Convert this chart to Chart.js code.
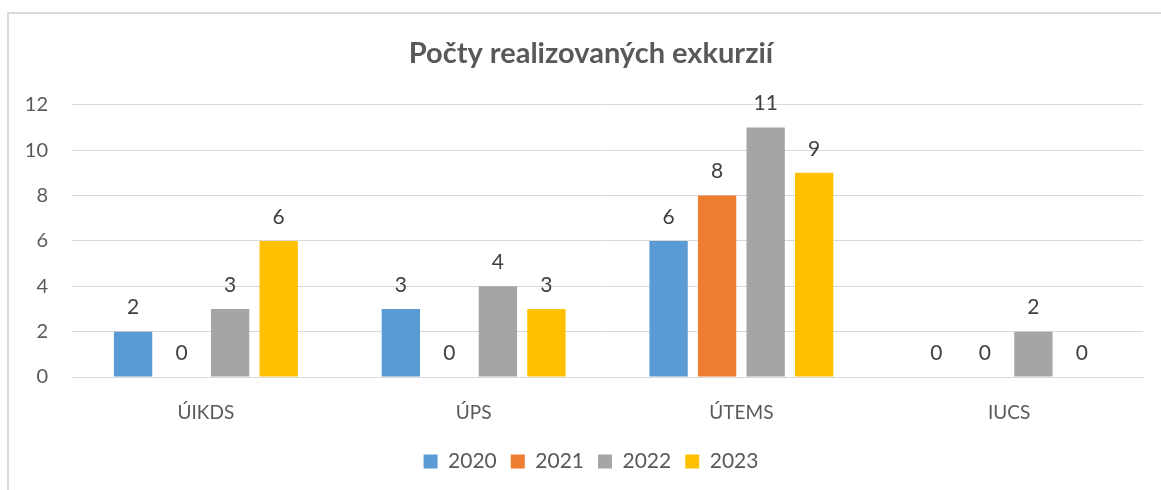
<!DOCTYPE html>
<html><head><meta charset="utf-8">
<script src="https://cdn.jsdelivr.net/npm/chart.js@4"></script>
<style>
html,body{margin:0;padding:0;background:#fff;}
#wrap{position:relative;width:1161px;height:490px;overflow:hidden;}
#frame{position:absolute;left:7px;top:12px;width:1200px;height:600px;border:2px solid #d9d9d9;box-sizing:border-box;}
canvas{position:absolute;left:0;top:0;}
</style></head><body>
<div id="wrap"><div id="frame"></div><canvas id="c" width="1161" height="490"></canvas></div>
<script>
const categories = ['ÚIKDS', 'ÚPS', 'ÚTEMS', 'IUCS'];
const seriesNames = ['2020', '2021', '2022', '2023'];
const values2020 = [2, 3, 6, 0];
const values2021 = [0, 0, 8, 0];
const values2022 = [3, 4, 11, 2];
const values2023 = [6, 3, 9, 0];
const yTicks = [0, 2, 4, 6, 8, 10, 12];
const titleText = 'Počty realizovaných exkurzií';

const colors = ['#5B9BD5', '#ED7D31', '#A5A5A5', '#FFC000'];
const allValues = [values2020, values2021, values2022, values2023];
const FONT = 'Lato, "Open Sans", sans-serif';

const valueLabels = {
  id: 'valueLabels',
  afterDatasetsDraw(chart) {
    const ctx = chart.ctx;
    ctx.save();
    ctx.font = '21px ' + FONT;
    ctx.fillStyle = '#404040';
    ctx.textAlign = 'center';
    ctx.textBaseline = 'middle';
    chart.data.datasets.forEach((ds, i) => {
      const meta = chart.getDatasetMeta(i);
      meta.data.forEach((el, j) => {
        ctx.fillText(String(ds.data[j]), el.x, el.y - 24);
      });
    });
    ctx.restore();
  }
};

new Chart(document.getElementById('c'), {
  type: 'bar',
  data: {
    labels: categories,
    datasets: seriesNames.map((name, i) => ({
      label: name,
      data: allValues[i],
      backgroundColor: colors[i],
      borderWidth: 0,
      categoryPercentage: 0.725,
      barPercentage: 0.79
    }))
  },
  options: {
    responsive: false,
    animation: false,
    layout: { padding: { left: 21, right: 0, top: 12, bottom: 8 } },
    plugins: {
      title: {
        display: true,
        text: titleText,
        color: '#595959',
        font: { family: FONT, size: 29, weight: 'bold' },
        padding: { top: 24, bottom: 34 }
      },
      legend: {
        position: 'bottom',
        labels: {
          color: '#595959',
          font: { family: FONT, size: 21 },
          boxWidth: 14,
          boxHeight: 14,
          padding: 14
        }
      },
      tooltip: { enabled: false }
    },
    scales: {
      x: {
        grid: { display: false },
        border: { color: '#d9d9d9', width: 1 },
        ticks: { color: '#595959', font: { family: FONT, size: 19 }, padding: 16 },
        afterFit(scale) { scale.height = 60; }
      },
      y: {
        min: 0,
        max: 12,
        afterBuildTicks(scale) { scale.ticks = yTicks.map(v => ({ value: v })); },
        grid: { color: '#d9d9d9', drawTicks: false, lineWidth: 1 },
        border: { display: false },
        ticks: { color: '#595959', font: { family: FONT, size: 20 }, padding: 24 },
        afterFit(scale) { scale.width = 51; }
      },
      yRight: {
        position: 'right',
        display: true,
        grid: { display: false, drawTicks: false },
        border: { display: false },
        ticks: { display: false },
        afterFit(scale) { scale.width = 18; }
      }
    }
  },
  plugins: [valueLabels]
});
</script>
</body></html>
